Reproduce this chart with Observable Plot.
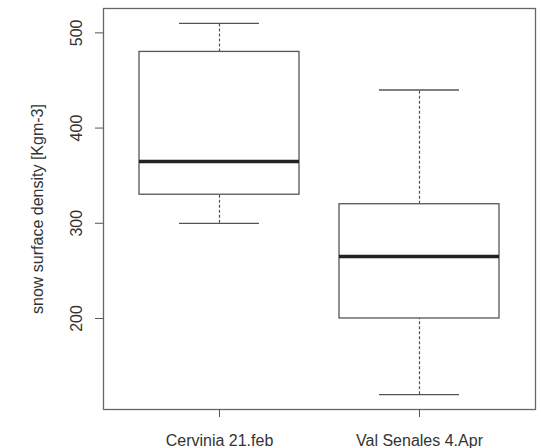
<!DOCTYPE html>
<html>
<head>
<meta charset="utf-8">
<script src="https://cdn.jsdelivr.net/npm/d3@7"></script>
<script src="https://cdn.jsdelivr.net/npm/@observablehq/plot@0.6"></script>
<style>
  html, body { margin: 0; padding: 0; background: #fff; }
  svg { display: block; }
</style>
</head>
<body>
<div id="chart"></div>
<script>
const groups = ["Cervinia 21.feb", "Val Senales 4.Apr"];
const lowerWhisker = [300, 120];
const q1 = [330, 200];
const median = [365, 265];
const q3 = [480, 320];
const upperWhisker = [510, 440];
const yTicks = [200, 300, 400, 500];
const yLabel = "snow surface density [Kgm-3]";

const data = groups.map((g, i) => ({
  g, pos: i + 1,
  lo: lowerWhisker[i], q1: q1[i], med: median[i], q3: q3[i], hi: upperWhisker[i]
}));

const font = "'Liberation Sans', Arial, Helvetica, sans-serif";
const lineCol = "#555";
const textCol = "#333";

const chart = Plot.plot({
  width: 541,
  height: 448,
  marginLeft: 103,
  marginRight: 6,
  marginTop: 8,
  marginBottom: 39,
  style: { fontFamily: font, fontSize: "16px", color: textCol, background: "#fff" },
  x: { type: "linear", domain: [0.42, 2.58], axis: null },
  y: { domain: [104.4, 525.6], axis: null },
  marks: [
    // whiskers (dashed)
    Plot.ruleX(data, { x: "pos", y1: "q3", y2: "hi", stroke: lineCol, strokeWidth: 1.2, strokeDasharray: "3,2" }),
    Plot.ruleX(data, { x: "pos", y1: "lo", y2: "q1", stroke: lineCol, strokeWidth: 1.2, strokeDasharray: "3,2" }),
    // staples
    Plot.ruleY(data, { y: "hi", x1: d => d.pos - 0.2, x2: d => d.pos + 0.2, stroke: lineCol, strokeWidth: 1.3 }),
    Plot.ruleY(data, { y: "lo", x1: d => d.pos - 0.2, x2: d => d.pos + 0.2, stroke: lineCol, strokeWidth: 1.3 }),
    // boxes
    Plot.rect(data, { x1: d => d.pos - 0.4, x2: d => d.pos + 0.4, y1: "q1", y2: "q3", fill: "white", stroke: lineCol, strokeWidth: 1.3 }),
    // medians
    Plot.ruleY(data, { y: "med", x1: d => d.pos - 0.4, x2: d => d.pos + 0.4, stroke: "#222", strokeWidth: 3.5 }),
    // frame
    Plot.frame({ stroke: "#666", strokeWidth: 1.3 }),
    // y axis ticks and labels
    Plot.axisY({ ticks: yTicks, tickSize: 8, tickFormat: () => "", stroke: lineCol, label: null }),
    Plot.text(yTicks, { y: d => d, text: d => String(d), frameAnchor: "left", textAnchor: "middle", lineAnchor: "middle", dx: -27, rotate: -90, fill: textCol, fontSize: 16 }),
    Plot.text([yLabel], { text: d => d, frameAnchor: "left", textAnchor: "middle", lineAnchor: "middle", dx: -66, rotate: -90, fill: textCol, fontSize: 16 }),
    // x axis ticks and labels
    Plot.axisX({ ticks: data.map(d => d.pos), tickSize: 8, tickFormat: () => "", stroke: lineCol, label: null }),
    Plot.text(data, { x: "pos", text: "g", frameAnchor: "bottom", dy: 31, lineAnchor: "middle", fill: textCol, fontSize: 16 })
  ]
});

document.getElementById("chart").appendChild(chart);
</script>
</body>
</html>
